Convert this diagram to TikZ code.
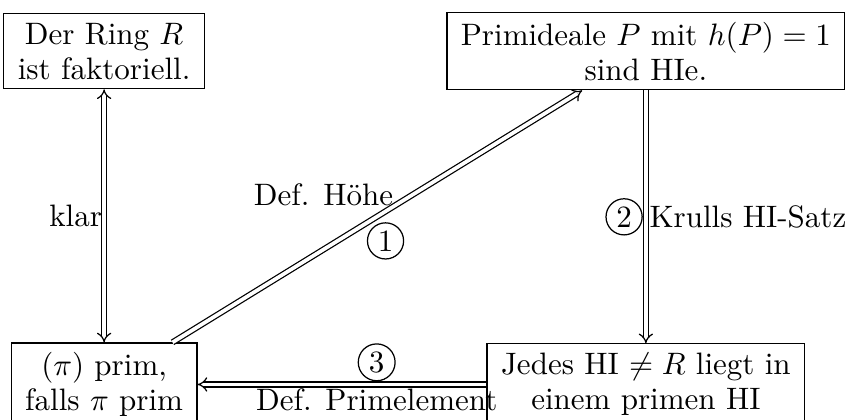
\documentclass[tikz,border=0pt]{standalone}
\usetikzlibrary{arrows.meta}

\begin{document}
\begin{tikzpicture}[font=\fontsize{10}{11.3}\selectfont,
  box/.style={draw,align=center,inner xsep=4.5pt,inner ysep=3pt},
  dimp/.style={double,double distance=1.2pt,-{Implies[scale=1.4]}},
  circnum/.style={draw,circle,inner sep=1.2pt}]
  \useasboundingbox (0,0) rectangle (9.69,4.75);
  \node[box] (ring) at (1.18,4.17) {Der Ring $R$\\ist faktoriell.};
  \node[box] (prim) at (7.32,4.17) {Primideale $P$ mit $h(P)=1$\\sind HIe.};
  \node[box,anchor=north] (pi) at (1.18,0.87) {$(\pi)$ prim,\\falls $\pi$ prim};
  \node[box,anchor=north] (jedes) at (7.32,0.86) {Jedes HI $\neq R$ liegt in\\einem primen HI};
  % Pfeile mit Beschriftung
  \draw[dimp,{Implies[scale=1.4]}-{Implies[scale=1.4]}] (ring) -- (pi) node[midway,left=0pt,inner sep=0.5pt] (klar) {klar};
  \draw[dimp] (pi) -- (prim) node[pos=0.54,anchor=south east,inner sep=0pt] (hoehe) {Def. Höhe}
    node[circnum,pos=0.52,below=3.5pt] (c1) {1};
  \draw[dimp] (prim) -- (jedes) node[circnum,midway,left=1pt] (c2) {2}
    node[midway,right=1pt,inner sep=0pt] (krull) {Krulls HI-Satz};
  \draw[dimp] (jedes.west) -- (jedes.west -| pi.east) node[circnum,pos=0.38,above=1pt] (c3) {3}
    node[pos=0.38,below=1pt,inner sep=0pt] (primel) {Def. Primelement};
\end{tikzpicture}
\end{document}
